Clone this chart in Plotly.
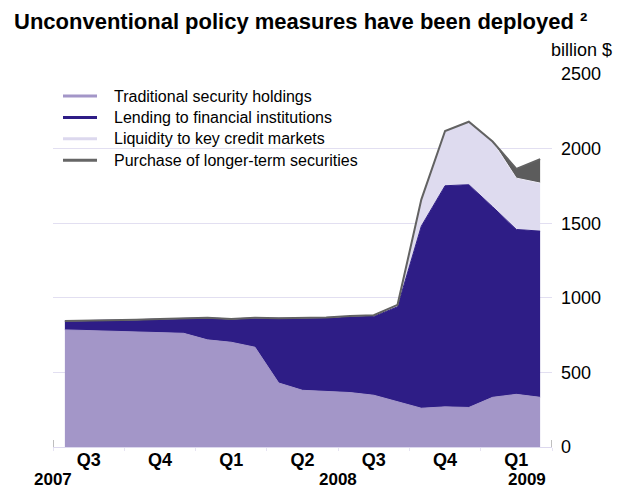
import plotly.graph_objects as go

# Monthly balance-sheet components, billion US$
months = ["2007-07", "2007-08", "2007-09", "2007-10", "2007-11", "2007-12",
          "2008-01", "2008-02", "2008-03", "2008-04", "2008-05", "2008-06",
          "2008-07", "2008-08", "2008-09", "2008-10", "2008-11", "2008-12",
          "2009-01", "2009-02", "2009-03"]
traditional = [785, 780, 776, 772, 768, 762, 718, 702, 669, 429, 380,
               372, 365, 347, 302, 260, 269, 265, 333, 353, 333]
lending = [60, 66, 72, 81, 90, 98, 148, 156, 197, 434, 484,
           496, 508, 528, 638, 1220, 1482, 1493, 1277, 1105, 1114]
liquidity = [0, 0, 0, 0, 0, 0, 0, 0, 0, 0, 0,
             0, 5, 8, 13, 178, 367, 422, 437, 344, 322]
purchases = [0, 0, 0, 0, 0, 0, 0, 0, 0, 0, 0,
             0, 0, 0, 0, 0, 0, 0, 0, 62, 160]

series_names = ["Traditional security holdings", "Lending to financial institutions",
                "Liquidity to key credit markets", "Purchase of longer-term securities"]
y_ticks = [0, 500, 1000, 1500, 2000, 2500]
year_labels = ["2007", "2008", "2009"]

FONT = "Arial, Liberation Sans, sans-serif"
fills = ["#a396c8", "#2e1d86", "#dedbef", "#5c5c5c"]
edges = ["#a396c8", "#2e1d86", "#eeecf7", "#626262"]
edge_w = [1, 1, 1, 2]
key_cols = ["#a396c8", "#2e1d86", "#dcd8ee", "#666666"]

W, H = 621, 490
ML, MR, MT, MB = 53, 69, 74, 43
PW, PH = W - ML - MR, H - MT - MB


def px_x(px):
    """pixel column -> paper x"""
    return (px - ML) / PW


def px_y(py):
    """pixel row -> paper y"""
    return (H - MB - py) / PH


x = list(range(len(months)))

# quarter label positions: centre of the months falling in each quarter
quarters = {}
for i, m in enumerate(months):
    yr, mo = m.split("-")
    key = (yr, (int(mo) - 1) // 3 + 1)
    quarters.setdefault(key, []).append(i)
q_pos = [sum(v) / len(v) for v in quarters.values()]
q_text = ["<b>Q%d</b>" % k[1] for k in quarters.keys()]

fig = go.Figure()
for name, vals, fc, ec, w in zip(series_names,
                                 [traditional, lending, liquidity, purchases],
                                 fills, edges, edge_w):
    fig.add_trace(go.Scatter(x=x, y=vals, name=name, stackgroup="bs", mode="lines",
                             fillcolor=fc, line=dict(color=ec, width=w),
                             showlegend=False, hoverinfo="skip"))

fig.update_layout(
    width=W, height=H,
    margin=dict(l=ML, r=MR, t=MT, b=MB),
    paper_bgcolor="white", plot_bgcolor="white",
    font=dict(family=FONT, size=16, color="#000000"),
    title=dict(text="<b>Unconventional policy measures have been deployed ²</b>",
               x=14 / W, xref="container", xanchor="left",
               y=1 - 21 / H, yref="container", yanchor="middle",
               font=dict(size=22, family=FONT, color="#000000")),
    showlegend=False,
    xaxis=dict(range=[-0.5, 20.5], showgrid=False, zeroline=False,
               tickmode="array", tickvals=q_pos, ticktext=q_text, ticks="",
               tickfont=dict(size=18, family=FONT), ticklabelstandoff=-4,
               showline=True, linecolor="#dcd8ee", linewidth=1,
               minor=dict(tick0=-0.5, dtick=3, ticks="outside", ticklen=3,
                          tickcolor="#e6e3f2", showgrid=False)),
    yaxis=dict(range=[0, 2500], side="right", tickmode="array", tickvals=y_ticks,
               showgrid=True, gridcolor="#e2dff1", gridwidth=1, zeroline=False,
               ticks="", ticklabelstandoff=8,
               tickfont=dict(size=18, family=FONT)),
)

# key: short line samples with their labels
for i, (name, c) in enumerate(zip(series_names, key_cols)):
    yk = px_y(96 + 21.4 * i)
    fig.add_shape(type="line", xref="paper", yref="paper",
                  x0=px_x(63), x1=px_x(97), y0=yk, y1=yk,
                  line=dict(color=c, width=3))
    fig.add_annotation(x=px_x(112), y=yk, xref="paper", yref="paper",
                       xanchor="left", yanchor="middle", text=name, showarrow=False,
                       font=dict(size=16, family=FONT))

# year labels under the quarter row
for txt, xp in zip(year_labels, [-0.5, 11.5, 19.45]):
    fig.add_annotation(x=xp, y=px_y(479), xref="x", yref="paper",
                       text="<b>%s</b>" % txt, showarrow=False,
                       font=dict(size=17, family=FONT), xanchor="center", yanchor="middle")

fig.add_annotation(x=1, y=px_y(50), xref="paper", yref="paper",
                   xanchor="left", yanchor="middle", xshift=-3,
                   text="billion $", showarrow=False, font=dict(size=18, family=FONT))

# end marks on the horizontal axis
for xe in [-0.5, 20.5]:
    fig.add_shape(type="line", x0=xe, x1=xe, y0=0, y1=7 / PH, xref="x", yref="paper",
                  line=dict(color="#7f7f7f", width=1))

fig.write_html("out.html")
